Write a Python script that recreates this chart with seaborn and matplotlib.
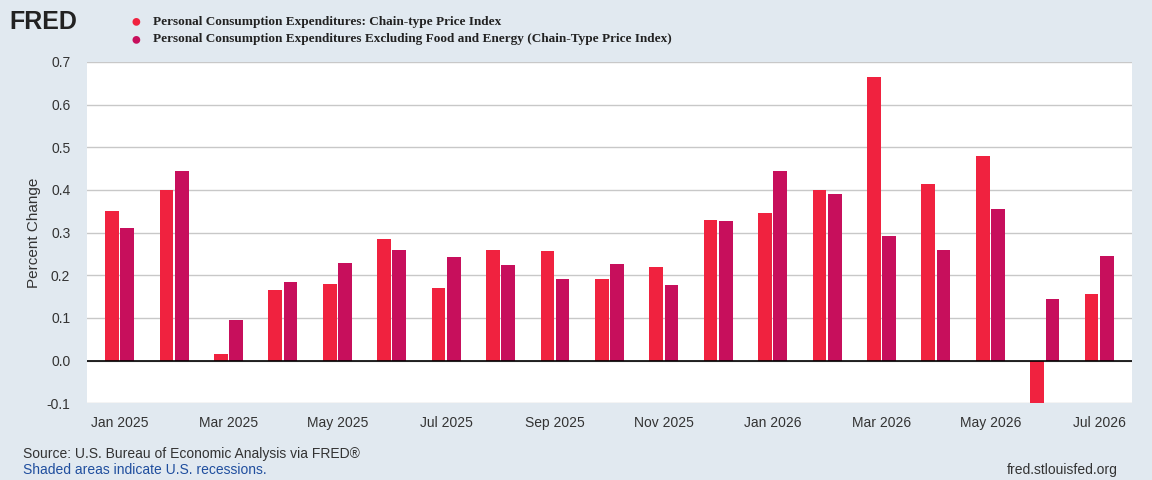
import matplotlib.pyplot as plt
import seaborn as sns
import pandas as pd

months = ['Jan 2025', 'Feb 2025', 'Mar 2025', 'Apr 2025', 'May 2025', 'Jun 2025', 'Jul 2025',
          'Aug 2025', 'Sep 2025', 'Oct 2025', 'Nov 2025', 'Dec 2025', 'Jan 2026', 'Feb 2026',
          'Mar 2026', 'Apr 2026', 'May 2026', 'Jun 2026', 'Jul 2026']
pce = [0.35, 0.40, 0.015, 0.165, 0.18, 0.285, 0.17, 0.26, 0.257, 0.19, 0.22, 0.33,
       0.345, 0.40, 0.665, 0.415, 0.48, -0.10, 0.155]
core = [0.31, 0.445, 0.095, 0.185, 0.228, 0.26, 0.242, 0.224, 0.19, 0.226, 0.176, 0.326,
        0.445, 0.39, 0.292, 0.258, 0.355, 0.145, 0.245]
s1 = 'Personal Consumption Expenditures: Chain-type Price Index'
s2 = 'Personal Consumption Expenditures Excluding Food and Energy (Chain-Type Price Index)'

df = pd.DataFrame({'month': months * 2, 'value': pce + core,
                   'series': [s1] * len(months) + [s2] * len(months)})

plt.rcParams['font.family'] = ['Liberation Sans', 'DejaVu Sans']
bg = '#e1e9f0'
fig = plt.figure(figsize=(11.52, 4.8), dpi=100, facecolor=bg)
ax = fig.add_axes([0.0755, 0.16, 0.907, 0.711])
sns.barplot(data=df, x='month', y='value', hue='series', palette=['#f0223f', '#c70f5c'],
            saturation=1, width=0.56, gap=0.1, ax=ax, legend=False)

ax.set_facecolor('white')
ax.set_ylim(-0.095, 0.7)
ax.set_xlim(-0.6, len(months) - 0.4)
ax.set_yticks([-0.1, 0, 0.1, 0.2, 0.3, 0.4, 0.5, 0.6, 0.7])
ax.set_yticklabels(['-0.1', '0.0', '0.1', '0.2', '0.3', '0.4', '0.5', '0.6', '0.7'])
ax.set_xticks(range(0, len(months), 2))
ax.set_xticklabels(months[::2])
ax.grid(axis='y', color='#c8c8c8', linewidth=1)
ax.set_axisbelow(True)
ax.axhline(0, color='black', linewidth=1.2)
for s in ax.spines.values():
    s.set_visible(False)
ax.tick_params(length=0, labelsize=10, colors='#333333')
ax.tick_params(axis='x', pad=9)
ax.tick_params(axis='y', pad=12)
ax.set_xlabel('')
ax.set_ylabel('Percent Change', fontsize=11, color='#333333')

fig.text(0.008, 0.94, 'FRED', fontsize=18, fontweight='bold', color='#222222')
fig.text(0.118, 0.955, '●', fontsize=13, color='#f0223f', va='center', ha='center')
fig.text(0.118, 0.918, '●', fontsize=13, color='#c70f5c', va='center', ha='center')
fig.text(0.133, 0.955, s1, fontsize=9.5, fontweight='bold', family='Liberation Serif', color='#222222', va='center')
fig.text(0.133, 0.918, s2, fontsize=9.5, fontweight='bold', family='Liberation Serif', color='#222222', va='center')
fig.text(0.02, 0.045, 'Source: U.S. Bureau of Economic Analysis via FRED®', fontsize=10, color='#333333')
fig.text(0.02, 0.012, 'Shaded areas indicate U.S. recessions.', fontsize=10, color='#1f4e9e')
fig.text(0.97, 0.012, 'fred.stlouisfed.org', fontsize=10, color='#333333', ha='right')

plt.savefig('out.png', dpi=100, facecolor=bg)
